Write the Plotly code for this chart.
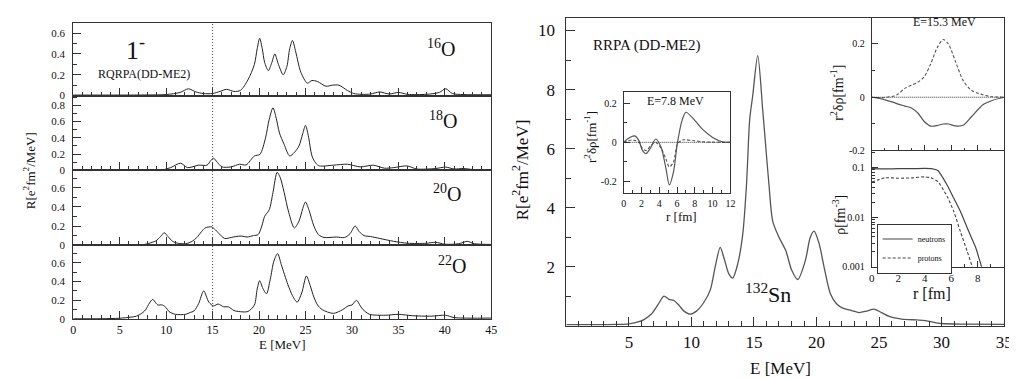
import plotly.graph_objects as go

W, H = 1017, 378
def fx(px): return px / W
def fy(py): return 1 - py / H

FONT = "Liberation Serif, Times New Roman, DejaVu Serif, serif"
AX = "#333333"

# ---------------- data: left panels (RQRPA, oxygen isotopes) ----------------
E_16 = [0, 5, 8, 10, 11.5, 12.4, 13.2, 14, 15, 15.8, 16.5, 17.3, 18.0, 18.8, 19.5, 19.8, 20.07, 20.35, 20.6,
        21.0, 21.35, 21.7, 22.05, 22.6, 23.0, 23.3, 23.6, 23.95, 24.5, 25.2, 25.7, 26.3, 27.2, 27.9, 28.6, 29.5,
        30.2, 31, 32, 33, 34, 35, 36, 38, 39.4, 40.1, 40.8, 42, 45]
R_16 = [0.005, 0.005, 0.006, 0.01, 0.03, 0.065, 0.035, 0.02, 0.02, 0.04, 0.06, 0.04, 0.05, 0.15, 0.30, 0.45, 0.55, 0.45, 0.32,
        0.24, 0.31, 0.40, 0.31, 0.20, 0.28, 0.45, 0.53, 0.42, 0.225, 0.12, 0.145, 0.135, 0.09, 0.10, 0.10, 0.05,
        0.02, 0.012, 0.015, 0.035, 0.015, 0.03, 0.012, 0.012, 0.03, 0.066, 0.02, 0.01, 0.008]

E_18 = [0, 8, 9.6, 10.5, 11.55, 12.3, 13.5, 14.4, 14.8, 15.1, 15.5, 16.0, 17.0, 17.9, 18.6, 19.5, 20.1, 20.7, 21.1,
        21.5, 21.85, 22.2, 22.7, 23.3, 23.8, 24.3, 24.7, 25.0, 25.3, 25.7, 26.1, 26.5, 28.0, 29.5, 30.9, 32.3, 33.5,
        34.5, 35.9, 37, 39, 40.1, 41, 42, 43, 45]
R_18 = [0.003, 0.004, 0.006, 0.035, 0.088, 0.034, 0.064, 0.064, 0.12, 0.15, 0.1, 0.043, 0.043, 0.076, 0.067, 0.177, 0.198, 0.4, 0.63,
        0.77, 0.64, 0.46, 0.32, 0.177, 0.22, 0.30, 0.45, 0.553, 0.43, 0.177, 0.09, 0.055, 0.064, 0.076, 0.043, 0.064, 0.027,
        0.034, 0.055, 0.017, 0.023, 0.04, 0.017, 0.023, 0.011, 0.006]

E_20 = [0, 7.5, 8.5, 8.9, 9.4, 9.8, 10.2, 10.7, 11.3, 12.1, 12.8, 13.3, 13.8, 14.2, 14.9, 15.3, 15.6, 16.3, 17.0, 17.5,
        18.1, 18.7, 19.4, 19.9, 20.3, 20.6, 21.1, 21.5, 21.95, 22.3, 22.7, 23.2, 23.8, 24.3, 24.7, 25.0, 25.4, 25.9,
        26.4, 27.0, 28.3, 29.2, 29.8, 30.35, 30.8, 31.3, 32, 33, 34.5, 36, 38, 39, 40, 41.5, 42.4, 43.2, 45]
R_20 = [0.003, 0.005, 0.03, 0.045, 0.09, 0.13, 0.09, 0.04, 0.02, 0.015, 0.04, 0.08, 0.14, 0.18, 0.19, 0.16, 0.13, 0.07, 0.08, 0.09,
        0.095, 0.085, 0.10, 0.11, 0.2, 0.30, 0.37, 0.55, 0.76, 0.70, 0.55, 0.34, 0.18, 0.25, 0.38, 0.45, 0.36, 0.2,
        0.11, 0.08, 0.085, 0.08, 0.12, 0.2, 0.14, 0.1, 0.09, 0.07, 0.04, 0.02, 0.02, 0.03, 0.01, 0.015, 0.04, 0.015, 0.008]

E_22 = [0, 3, 5, 6.2, 6.8, 7.5, 7.8, 8.2, 8.55, 8.9, 9.1, 9.6, 10.0, 10.3, 11.0, 12.1, 12.6, 13.0, 13.5, 14.04, 14.6,
        15.1, 15.6, 16.2, 16.7, 17.3, 17.8, 18.8, 19.5, 19.8, 20.07, 20.4, 20.8, 21.2, 21.6, 22.0, 22.4, 23.1, 23.6,
        24.1, 24.6, 25.1, 25.5, 25.9, 26.3, 26.8, 28.0, 29.0, 29.6, 30.0, 30.5, 30.9, 31.2, 31.9, 33.6, 35, 36.5,
        38.5, 40.1, 41, 45]
R_22 = [0.002, 0.003, 0.008, 0.02, 0.03, 0.07, 0.1, 0.17, 0.21, 0.17, 0.15, 0.15, 0.12, 0.08, 0.05, 0.05, 0.07, 0.086, 0.165, 0.30, 0.18,
        0.14, 0.16, 0.13, 0.13, 0.09, 0.08, 0.08, 0.15, 0.32, 0.41, 0.33, 0.27, 0.42, 0.62, 0.70, 0.58, 0.37, 0.25,
        0.18, 0.28, 0.46, 0.36, 0.235, 0.15, 0.1, 0.06, 0.10, 0.14, 0.15, 0.2, 0.14, 0.1, 0.05, 0.04, 0.05, 0.035,
        0.03, 0.04, 0.015, 0.01]

# ---------------- data: 132Sn RRPA strength ----------------
E_sn = [0, 2, 4, 5, 5.8, 6.2, 6.8, 7.3, 7.8, 8.2, 8.6, 9.0, 9.4, 9.9, 10.4, 11.0, 11.5, 11.9, 12.3, 12.6, 13.0, 13.3,
        13.7, 14.1, 14.4, 14.66, 14.9, 15.3, 15.7, 16.0, 16.2, 16.5, 17.0, 17.55, 18.0, 18.5, 19.1, 19.5, 19.8, 20.2,
        20.6, 21.1, 21.6, 22.1, 22.8, 23.4, 24.0, 24.6, 25.2, 25.8, 26.8, 28.0, 28.7, 30, 32, 35]
R_sn = [0.04, 0.04, 0.05, 0.07, 0.14, 0.21, 0.4, 0.7, 1.01, 0.9, 0.86, 0.7, 0.5, 0.4, 0.5, 0.8, 1.21, 2.0, 2.66, 2.3, 1.75, 1.62,
        2.1, 3.1, 4.77, 7.0, 7.8, 9.15, 7.3, 5.77, 4.77, 3.54, 3.0, 2.54, 1.9, 1.57, 2.2, 3.0, 3.21, 2.8,
        2.0, 1.1, 0.75, 0.6, 0.52, 0.45, 0.5, 0.57, 0.45, 0.32, 0.23, 0.2, 0.18, 0.08, 0.06, 0.05]

# ---------------- data: transition density at E=7.8 MeV ----------------
r_a = [0, 0.5, 1.0, 1.25, 1.7, 2.1, 2.5, 3.0, 3.6, 4.2, 4.75, 5.13, 5.6, 6.05, 6.6, 7.0, 7.9, 8.85, 10.0, 11.1, 12]
n_a = [0, 0.02, 0.031, 0.033, 0.01, -0.04, -0.058, -0.03, 0.017, -0.025, -0.133, -0.217, -0.15, 0.0, 0.117, 0.153, 0.117, 0.067, 0.025, 0.003, 0]
p_a = [0, 0.008, 0.012, 0.01, 0.0, -0.03, -0.042, -0.02, 0.0, -0.03, -0.085, -0.125, -0.1, -0.008, 0.012, 0.013, 0.008, 0.003, 0.001, 0, 0]

# ---------------- data: transition density at E=15.3 MeV ----------------
r_b = [0, 0.75, 1.0, 1.7, 2.0, 2.5, 3.0, 3.5, 3.95, 4.45, 4.94, 5.4, 5.8, 6.3, 6.9, 7.5, 8.4, 9.1, 10]
n_b = [0, -0.006, -0.01, -0.02, -0.026, -0.033, -0.04, -0.06, -0.09, -0.108, -0.106, -0.1, -0.1, -0.107, -0.105, -0.075, -0.028, -0.012, 0]
p_b = [0, -0.002, -0.001, 0.005, 0.012, 0.033, 0.045, 0.057, 0.076, 0.124, 0.185, 0.216, 0.198, 0.137, 0.063, 0.027, 0.009, 0.002, 0]

# ---------------- data: ground-state densities ----------------
r_c = [0, 1, 2, 3, 4, 4.5, 5.0, 5.2, 5.7, 6.2, 6.7, 7.2, 7.6, 7.84, 8.3, 8.6]
n_c = [0.095, 0.094, 0.095, 0.095, 0.096, 0.095, 0.087, 0.074, 0.044, 0.024, 0.013, 0.0062, 0.0035, 0.0025, 0.001, 0.0006]
p_c = [0.051, 0.062, 0.061, 0.062, 0.065, 0.062, 0.052, 0.044, 0.026, 0.013, 0.0051, 0.0021, 0.001, 0.0007, 0.0004, 0.0003]

left_E = [E_16, E_18, E_20, E_22]
left_R = [R_16, R_18, R_20, R_22]
left_yrange = [[0, 0.70], [0, 0.92], [0, 0.78], [0, 0.79]]

fig = go.Figure()

# left panels
for i in range(4):
    fig.add_trace(go.Scatter(x=left_E[i], y=left_R[i], mode="lines", line=dict(color="#222222", width=1, shape="spline", smoothing=0.8),
                             xaxis="x" if i == 0 else f"x{i+1}", yaxis="y" if i == 0 else f"y{i+1}", showlegend=False, hoverinfo="skip"))

# Sn main
fig.add_trace(go.Scatter(x=E_sn, y=R_sn, mode="lines", line=dict(color="#555555", width=1.3, shape="spline", smoothing=0.8),
                         xaxis="x5", yaxis="y5", showlegend=False))
# inset E=7.8
fig.add_trace(go.Scatter(x=r_a, y=n_a, mode="lines", line=dict(color="#555555", width=1.2, shape="spline", smoothing=0.8),
                         xaxis="x6", yaxis="y6", showlegend=False))
fig.add_trace(go.Scatter(x=r_a, y=p_a, mode="lines", line=dict(color="#555555", width=1.1, dash="3px,2px", shape="spline", smoothing=0.8),
                         xaxis="x6", yaxis="y6", showlegend=False))
# E=15.3
fig.add_trace(go.Scatter(x=r_b, y=n_b, mode="lines", line=dict(color="#555555", width=1.2, shape="spline", smoothing=0.8),
                         xaxis="x7", yaxis="y7", showlegend=False))
fig.add_trace(go.Scatter(x=r_b, y=p_b, mode="lines", line=dict(color="#555555", width=1.1, dash="3px,2px", shape="spline", smoothing=0.8),
                         xaxis="x7", yaxis="y7", showlegend=False))
# densities
fig.add_trace(go.Scatter(x=r_c, y=n_c, mode="lines", name="neutrons", line=dict(color="#444444", width=1.2, shape="spline", smoothing=0.6),
                         xaxis="x8", yaxis="y8"))
fig.add_trace(go.Scatter(x=r_c, y=p_c, mode="lines", name="protons", line=dict(color="#444444", width=1.1, dash="3px,2px", shape="spline", smoothing=0.6),
                         xaxis="x8", yaxis="y8"))


def axis(domain, rng, anchor, dtick=None, tick0=0, ticklen=8, mdtick=None, mlen=4, labels=True, size=12,
         tickvals=None, ticktext=None, typ="linear", minor_vals=None, standoff=3):
    d = dict(domain=domain, range=rng, anchor=anchor, type=typ, showline=True, mirror=True, linecolor=AX, linewidth=1,
             ticks="inside", ticklen=ticklen, tickcolor=AX, tickwidth=1, showgrid=False, zeroline=False,
             showticklabels=labels, tickfont=dict(family=FONT, size=size, color="#111111"), ticklabelstandoff=standoff)
    if tickvals is not None:
        d.update(tickmode="array", tickvals=tickvals)
        if ticktext is not None:
            d["ticktext"] = ticktext
    else:
        d.update(tickmode="linear", tick0=tick0, dtick=dtick)
    if minor_vals is not None:
        d["minor"] = dict(tickmode="array", tickvals=minor_vals, ticks="inside", ticklen=mlen, tickcolor=AX, showgrid=False)
    elif mdtick is not None:
        d["minor"] = dict(tickmode="linear", tick0=0, dtick=mdtick, ticks="inside", ticklen=mlen, tickcolor=AX, showgrid=False)
    return d


layout = dict(width=W, height=H, margin=dict(l=0, r=0, t=0, b=0), paper_bgcolor="white", plot_bgcolor="white",
              font=dict(family=FONT, color="#111111"))

LX = [fx(63), fx(486)]
ybounds = [(15, 89), (89, 165), (165, 241), (241, 316)]
for i in range(4):
    sx = "" if i == 0 else str(i + 1)
    layout[f"xaxis{sx}"] = axis(LX, [0, 45], f"y{sx}", dtick=5, ticklen=8, mdtick=1, mlen=4, labels=(i == 3), size=12, standoff=0)
    layout[f"yaxis{sx}"] = axis([fy(ybounds[i][1]), fy(ybounds[i][0])], left_yrange[i], f"x{sx}", dtick=0.2, ticklen=8,
                                mdtick=0.1, mlen=4, size=11, standoff=5)

layout["xaxis5"] = axis([fx(562), fx(1005)], [0, 35], "y5", tickvals=[5, 10, 15, 20, 25, 30, 35], ticklen=9, mdtick=1, mlen=5, size=17, standoff=1)
layout["yaxis5"] = axis([fy(323), fy(10)], [0, 10.43], "x5", tickvals=[2, 4, 6, 8, 10], ticklen=9, mdtick=1, mlen=5, size=17, standoff=7)

layout["xaxis6"] = axis([fx(620), fx(728)], [0, 12], "y6", dtick=2, ticklen=6, mdtick=1, mlen=3, size=10, standoff=1)
layout["yaxis6"] = axis([fy(188), fy(85)], [-0.258, 0.258], "x6", tickvals=[-0.2, 0, 0.2], ticktext=["-0.2", "0", "0.2"],
                        ticklen=6, mdtick=0.1, mlen=3, size=10, standoff=4)

layout["xaxis7"] = axis([fx(871), fx(1005)], [0, 10], "y7", dtick=2, ticklen=6, mdtick=1, mlen=3, labels=False)
layout["yaxis7"] = axis([fy(145), fy(10)], [-0.2, 0.297], "x7", tickvals=[-0.2, 0, 0.2], ticktext=["-0.2", "0", "0.2"],
                        ticklen=6, mdtick=0.1, mlen=3, size=10, standoff=4)

layout["xaxis8"] = axis([fx(871), fx(1005)], [0, 10], "y8", tickvals=[0, 2, 4, 6, 8], ticklen=6, mdtick=1, mlen=3, size=11, standoff=1)
minor_log = [k * 10 ** e for e in (-3, -2, -1) for k in range(2, 10) if k * 10 ** e < 0.22]
layout["yaxis8"] = axis([fy(263), fy(145)], [-3, -0.66], "x8", typ="log", tickvals=[0.001, 0.01, 0.1],
                        ticktext=["0.001", "0.01", "0.1"], ticklen=6, minor_vals=minor_log, mlen=3, size=10, standoff=4)

layout["legend"] = dict(x=fx(876), y=fy(219), xanchor="left", yanchor="top", bordercolor="#333333", borderwidth=1,
                        bgcolor="white", font=dict(family=FONT, size=8, color="#111111"), itemwidth=30,
                        tracegroupgap=0, traceorder="normal")


def ann(text, x, y, size, angle=0, xanchor="center"):
    return dict(text=text, x=fx(x), y=fy(y), xref="paper", yref="paper", showarrow=False, textangle=angle,
                xanchor=xanchor, yanchor="middle", font=dict(family=FONT, size=size, color="#111111"))


anns = [
    ann("1<sup>-</sup>", 126, 41, 26),
    ann("RQRPA(DD-ME2)", 135, 67, 12),
    ann("<sup>16</sup>O", 435, 41, 20),
    ann("<sup>18</sup>O", 437, 114, 20),
    ann("<sup>20</sup>O", 441, 188, 20),
    ann("<sup>22</sup>O", 446, 261, 20),
    ann("E [MeV]", 275, 342, 13),
    ann("R[e<sup>2</sup>fm<sup>2</sup>/MeV]", 19, 165, 13, angle=-90),
    ann("RRPA (DD-ME2)", 643, 38, 15),
    ann("<sup>132</sup>Sn", 766, 290, 22),
    ann("E [MeV]", 779, 366, 17),
    ann("R[e<sup>2</sup>fm<sup>2</sup>/MeV]", 516, 164, 17, angle=-90),
    ann("E=7.8 MeV", 672, 95, 12),
    ann("r [fm]", 679, 212, 13),
    ann("r<sup>2</sup>δρ[fm<sup>-1</sup>]", 586, 131, 13, angle=-90),
    ann("E=15.3 MeV", 945, 14, 12),
    ann("r<sup>2</sup>δρ[fm<sup>-1</sup>]", 836, 86, 14, angle=-90),
    ann("ρ[fm<sup>-3</sup>]", 838, 210, 14, angle=-90),
    ann("r [fm]", 932, 290, 16),
]
layout["annotations"] = anns

shapes = [
    dict(type="line", xref="x4", yref="paper", x0=15, x1=15, y0=fy(316), y1=fy(15),
         line=dict(color="#444444", width=1, dash="1px,2px")),
    dict(type="line", xref="x6", yref="y6", x0=0, x1=12, y0=0, y1=0, line=dict(color="#333333", width=1, dash="1px,1px")),
    dict(type="line", xref="x7", yref="y7", x0=0, x1=10, y0=0, y1=0, line=dict(color="#333333", width=1, dash="1px,1px")),
]
layout["shapes"] = shapes

fig.update_layout(**layout)
fig.write_html("out.html")
